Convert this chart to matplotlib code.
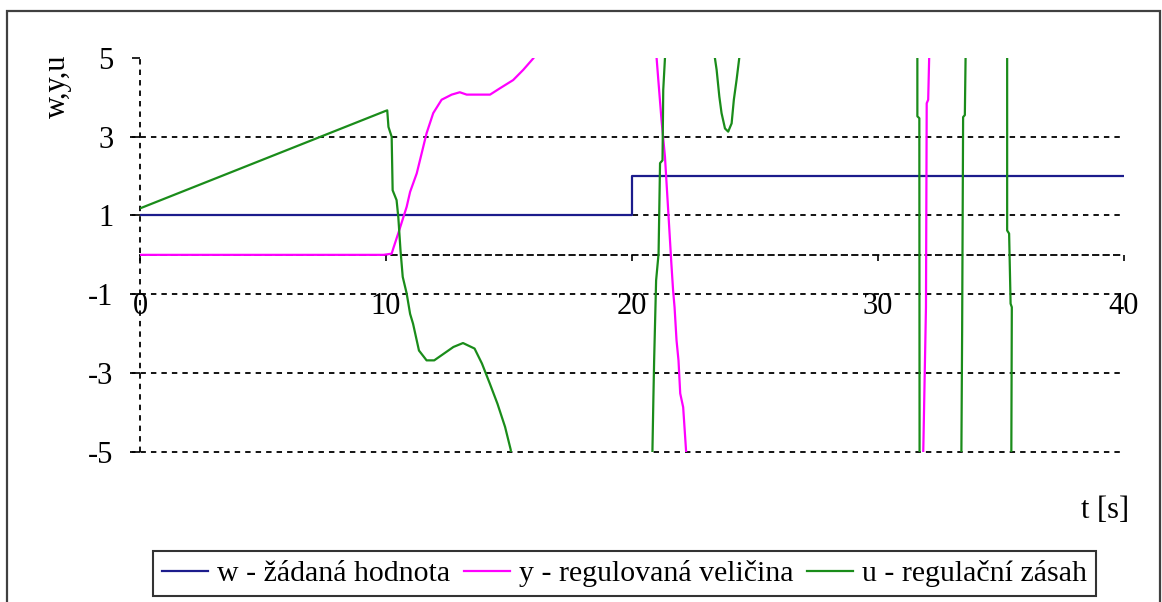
import numpy as np
import matplotlib
matplotlib.use("Agg")
from matplotlib import pyplot as plt
from matplotlib.patches import Rectangle
from matplotlib.lines import Line2D

plt.rcParams['font.family'] = ['Liberation Serif', 'DejaVu Serif']

nan = np.nan

# w - setpoint
t_w = [0, 20, 20, 40]
w = [1, 1, 2, 2]

# y - controlled variable (gaps where it leaves the +-5 window)
t_y = [0, 9.9, 10.23, 10.3, 10.5, 10.84, 10.98, 11.25, 11.45, 11.65, 11.92, 12.26,
       12.67, 13.0, 13.28, 14.23, 14.63, 15.17, 15.58, 16.0, 16.3, nan,
       20.97, 21.0, 21.07, 21.2, 21.34, 21.48, 21.6, 21.67, 21.73, 21.81, 21.89,
       21.96, 22.08, 22.2, 22.25, nan,
       31.83, 31.84, 31.95, 31.98, 32.04, 32.08, 32.09]
y = [0, 0, 0.03, 0.17, 0.55, 1.22, 1.6, 2.07, 2.58, 3.09, 3.6, 3.94,
     4.07, 4.13, 4.07, 4.07, 4.23, 4.44, 4.7, 5.0, 5.5, nan,
     5.5, 5.0, 4.44, 3.42, 2.49, 1.04, -0.22, -0.9, -1.33, -2.17, -2.68,
     -3.52, -3.87, -5.0, -5.5, nan,
     -5.5, -5.0, -1.33, 3.85, 3.94, 5.0, 5.5]

# u - control action
t_u = [0, 9.96, 10.05, 10.1, 10.23, 10.27, 10.43, 10.5, 10.59, 10.68, 10.84, 10.98,
       11.1, 11.34, 11.65, 11.96, 12.35, 12.74, 13.13, 13.6, 13.9, 14.22, 14.53,
       14.84, 15.07, 15.12, nan,
       20.81, 20.83, 20.87, 20.9, 20.98, 21.08, 21.14, 21.24, 21.27, 21.34, 21.36, nan,
       23.35, 23.37, 23.44, 23.55, 23.64, 23.78, 23.91, 24.05, 24.14, 24.25, 24.36, 24.38, nan,
       31.6, 31.6, 31.6, 31.68, 31.69, 31.69, nan,
       33.39, 33.39, 33.42, 33.46, 33.53, 33.56, 33.56, nan,
       35.25, 35.25, 35.25, 35.33, 35.39, 35.44, 35.42, 35.42]
u = [1.18, 3.65, 3.67, 3.25, 3.0, 1.64, 1.39, 0.96, 0.11, -0.56, -0.98, -1.5,
     -1.75, -2.43, -2.68, -2.68, -2.51, -2.34, -2.24, -2.38, -2.76, -3.27, -3.78,
     -4.37, -4.95, -5.5, nan,
     -5.5, -5.0, -3.62, -2.68, -0.65, 0.03, 2.33, 2.4, 4.19, 5.0, 5.5, nan,
     5.5, 5.0, 4.7, 4.02, 3.6, 3.21, 3.13, 3.34, 3.94, 4.44, 5.0, 5.5, nan,
     5.5, 5.0, 3.52, 3.47, -5.0, -5.5, nan,
     -5.5, -5.0, -1.96, 3.5, 3.55, 5.0, 5.5, nan,
     5.5, 5.0, 0.62, 0.54, -1.24, -1.33, -5.0, -5.5]

labels = ['w - žádaná hodnota', 'y - regulovaná veličina', 'u - regulační zásah']
colors = ['#1c1c8c', '#ff00ff', '#1a8c1a']
x_ticks = [0, 10, 20, 30, 40]
y_ticks = [5, 3, 1, -1, -3, -5]
grid_levels = [3, 1, -1, -3, -5]

W, H = 1162, 602
fig = plt.figure(figsize=(W / 100, H / 100), dpi=100)
fig.patch.set_facecolor('white')

# outer frame
fig.patches.append(Rectangle((7 / W, -0.1), 1153 / W, 1 - 11 / H + 0.1,
                             transform=fig.transFigure, fill=False,
                             edgecolor='#404040', linewidth=1.6))

ax = fig.add_axes([140 / W, 1 - 451.7 / H, 984 / W, 393.7 / H])
ax.set_xlim(0, 40)
ax.set_ylim(-5, 5)

dash = (0, (3, 2.8))
for s in ['top', 'right', 'left']:
    ax.spines[s].set_visible(False)
ax.spines['bottom'].set_position(('data', 0))
ax.spines['bottom'].set_linestyle(dash)
ax.spines['bottom'].set_linewidth(1.3)

ax.hlines(grid_levels, -0.4, 39.9, colors='black', linestyles=dash,
          linewidth=1.3, clip_on=False, zorder=1)
ax.vlines(0, -5, 5, colors='black', linestyles=dash, linewidth=1.3,
          clip_on=False, zorder=1)

ax.plot(t_w, w, color=colors[0], linewidth=1.6, zorder=3)
ax.plot(t_y, y, color=colors[1], linewidth=1.6, zorder=3)
ax.plot(t_u, u, color=colors[2], linewidth=1.6, zorder=3)

ax.set_xticks(x_ticks)
ax.set_yticks(y_ticks)
ax.set_yticklabels([str(v) for v in y_ticks])
ax.tick_params(axis='x', direction='out', length=4, width=1.2, pad=23, labelsize=22)
ax.tick_params(axis='y', direction='out', length=6, width=1.2, pad=13, labelsize=22)

fig.text(57 / W, 1 - 86 / H, 'w,y,u', rotation=90, ha='center', va='center', fontsize=22)
fig.text(1105 / W, 1 - 510 / H, 't [s]', ha='center', va='center', fontsize=22)

handles = [Line2D([], [], color=c, linewidth=1.6) for c in colors]
leg = fig.legend(handles, labels, ncol=3, loc='upper left',
                 bbox_to_anchor=(153 / W, 1 - 551 / H), fontsize=21.5,
                 frameon=True, fancybox=False, edgecolor='black',
                 borderpad=0.3, handlelength=1.55, handletextpad=0.3,
                 columnspacing=0.45, borderaxespad=0)
leg.get_frame().set_linewidth(1.5)

fig.savefig('out.png', dpi=100)
